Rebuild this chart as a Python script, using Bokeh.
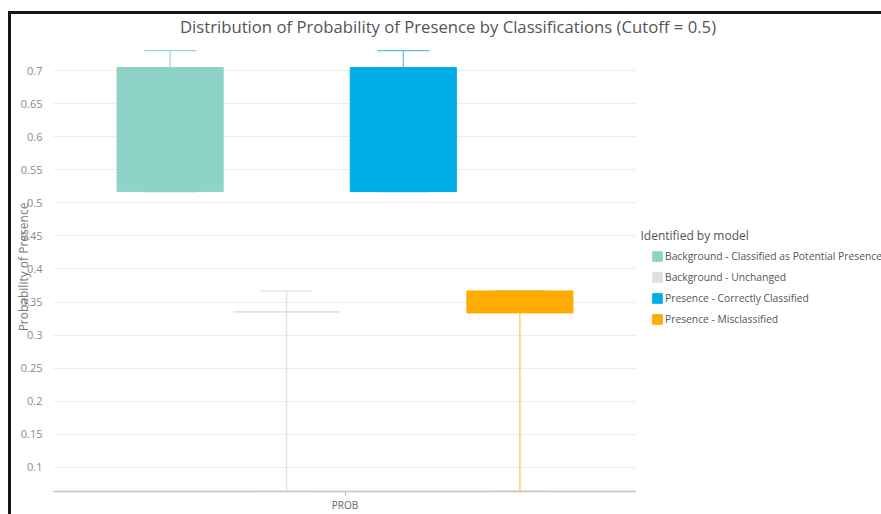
import numpy as np
from bokeh.plotting import figure
from bokeh.layouts import column, row
from bokeh.models import (ColumnDataSource, Range1d, FixedTicker, NumeralTickFormatter,
                          Legend, LegendItem, Label)
from bokeh.embed import file_html
from bokeh.resources import INLINE

# Box-plot statistics of the probability of presence, per classification
classes = [
    "Background - Classified as Potential Presence",
    "Background - Unchanged",
    "Presence - Correctly Classified",
    "Presence - Misclassified",
]
positions = [1, 2, 3, 4]
whisker_low = [0.517, 0.0637, 0.517, 0.0637]
box_low = [0.517, 0.335, 0.517, 0.3335]
box_high = [0.7045, 0.335, 0.7045, 0.3667]
whisker_high = [0.730, 0.3667, 0.730, 0.3667]

box_colors = ["#8ed3c7", "#dedede", "#00ade8", "#ffab00"]
whisker_colors = ["#8fd6dc", "#e2e2e2", "#5cc2e8", "#f7c44f"]

y_ticks = [0.1, 0.15, 0.2, 0.25, 0.3, 0.35, 0.4, 0.45, 0.5, 0.55, 0.6, 0.65, 0.7]
x_ticks = [2.5]
x_tick_labels = {2.5: "PROB"}

TITLE = "Distribution of Probability of Presence by Classifications (Cutoff = 0.5)"
LEGEND_TITLE = "Identified by model"

BOX_W = 0.91
CAP_W = 0.446
FONT = "Open Sans"
TEXT_GREY = "#555555"

pos = np.array(positions, dtype=float)
src = ColumnDataSource(dict(
    x=pos, lo=whisker_low, q1=box_low, q3=box_high, hi=whisker_high,
    fill=box_colors, wcol=whisker_colors,
    cap_l=pos - CAP_W / 2, cap_r=pos + CAP_W / 2,
))

# ---- title strip -------------------------------------------------------
head = figure(width=870, height=28, x_range=Range1d(0, 1), y_range=Range1d(0, 1),
              output_backend="svg", toolbar_location=None,
              x_axis_location=None, y_axis_location=None,
              min_border=0, outline_line_color=None)
head.grid.visible = False
head.add_layout(Label(x=436.5, y=16, x_units="screen", y_units="screen", text=TITLE,
                      text_align="center", text_baseline="middle", text_font=FONT,
                      text_font_size="16.7px", text_color=TEXT_GREY))

# ---- box plot ----------------------------------------------------------
p = figure(width=625, height=472, x_range=Range1d(0, 5), y_range=Range1d(0.0635, 0.7424),
           output_backend="svg", toolbar_location=None,
           min_border_left=42, min_border_right=0, min_border_top=0, min_border_bottom=23)
p.outline_line_color = None

# whiskers and caps
p.segment(x0="x", y0="q3", x1="x", y1="hi", line_color="wcol", line_width=1.2, source=src)
p.segment(x0="x", y0="lo", x1="x", y1="q1", line_color="wcol", line_width=1.2, source=src)
p.segment(x0="cap_l", y0="hi", x1="cap_r", y1="hi", line_color="wcol", line_width=1.2, source=src)
p.segment(x0="cap_l", y0="lo", x1="cap_r", y1="lo", line_color="wcol", line_width=1.2, source=src)

# boxes
p.vbar(x="x", width=BOX_W, bottom="q1", top="q3", fill_color="fill", line_color="fill",
       line_width=1, source=src)

p.xaxis.ticker = FixedTicker(ticks=x_ticks)
p.xaxis.major_label_overrides = x_tick_labels
p.xaxis.axis_line_color = "#c4c4c4"
p.xaxis.axis_line_width = 1.5
p.xaxis.major_tick_line_color = "#b0b0b0"
p.xaxis.major_tick_out = 4
p.xaxis.major_tick_in = 0
p.xaxis.minor_tick_line_color = None
p.xaxis.major_label_text_font = FONT
p.xaxis.major_label_text_font_size = "10px"
p.xaxis.major_label_text_color = "#666666"
p.xaxis.major_label_standoff = 2

p.yaxis.ticker = FixedTicker(ticks=y_ticks)
p.yaxis.formatter = NumeralTickFormatter(format="0.[00]")
p.yaxis.axis_line_color = None
p.yaxis.major_tick_line_color = None
p.yaxis.minor_tick_line_color = None
p.yaxis.major_label_text_font = FONT
p.yaxis.major_label_text_font_size = "11px"
p.yaxis.major_label_text_color = "#8a8a8a"
p.yaxis.major_label_standoff = 5
p.yaxis.axis_label = "Probability of Presence"
p.yaxis.axis_label_text_font = FONT
p.yaxis.axis_label_text_font_style = "normal"
p.yaxis.axis_label_text_font_size = "12px"
p.yaxis.axis_label_text_color = "#7a7a7a"
p.yaxis.axis_label_standoff = -14

p.xgrid.grid_line_color = None
p.ygrid.grid_line_color = "#ececec"
p.ygrid.grid_line_width = 1

# ---- legend panel ------------------------------------------------------
# the side panel's ranges lie away from the data, so only the legend shows
side = figure(width=245, height=472, x_range=Range1d(-1, 0), y_range=Range1d(0, 1),
              output_backend="svg", toolbar_location=None,
              x_axis_location=None, y_axis_location=None,
              min_border=0, outline_line_color=None)
side.grid.visible = False

swatches = [side.vbar(x=[positions[i]], width=BOX_W, bottom=[box_low[i]], top=[box_high[i]],
                      fill_color=box_colors[i], line_color=box_colors[i])
            for i in range(len(classes))]

legend = Legend(
    items=[LegendItem(label=c, renderers=[r]) for c, r in zip(classes, swatches)],
    location=(15, 162), orientation="vertical",
    padding=0, margin=0, spacing=0, label_height=21, glyph_height=12, glyph_width=12,
    label_standoff=2, border_line_color=None, background_fill_alpha=0,
    label_text_font=FONT, label_text_font_size="10.3px", label_text_color=TEXT_GREY,
)
side.add_layout(legend)
side.add_layout(Label(x=4, y=256, x_units="screen", y_units="screen", text=LEGEND_TITLE,
                      text_baseline="middle", text_font=FONT, text_font_size="12px",
                      text_color=TEXT_GREY))

page = column(head, row(p, side, spacing=0), spacing=0)
page.styles = {"border-left": "3px solid #141414", "border-top": "3px solid #141414",
               "margin-left": "8px", "margin-top": "11px"}

open("out.html", "w").write(file_html(page, INLINE))
